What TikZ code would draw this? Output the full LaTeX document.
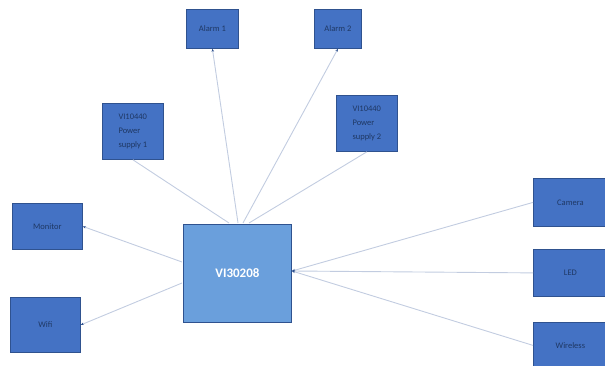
\documentclass[tikz,border=0pt]{standalone}
\usepackage{fontspec}
\setmainfont{Carlito}
\usetikzlibrary{arrows.meta}
\definecolor{boxblue}{HTML}{4472C4}
\definecolor{boxedge}{HTML}{2F528F}
\definecolor{centerblue}{HTML}{6A9FDC}
\definecolor{txtblue}{HTML}{1F3864}
\definecolor{linecol}{HTML}{C2CCE0}
\tikzset{
  box/.style={draw=boxedge, fill=boxblue, line width=0.8pt, anchor=north west, inner sep=1pt,
    font=\fontsize{8.5}{14}\selectfont, text=txtblue, align=center},
  centerbox/.style={draw=boxedge, fill=centerblue, line width=0.8pt, anchor=north west,
    font=\fontsize{13}{15}\selectfont\bfseries, text=white},
  conn/.style={draw=linecol, line width=0.9pt},
  arr/.style={conn, -{Stealth[length=3pt,width=2.5pt,color=boxedge]}}
}
\begin{document}
\begin{tikzpicture}[x=1pt,y=1pt]
\useasboundingbox (0,0) rectangle (605,-366);
\node[box, minimum width=52pt, minimum height=39pt] (al1) at (186,-9) {Alarm 1};
\node[box, minimum width=47pt, minimum height=39pt] (al2) at (314,-9) {Alarm 2};
\node[box, minimum width=61pt, minimum height=56pt, align=left] (ps1) at (102,-103) {VI10440\\Power\\supply 1};
\node[box, minimum width=61pt, minimum height=56pt, align=left] (ps2) at (336,-95) {VI10440\\Power\\supply 2};
\node[box, minimum width=70pt, minimum height=46pt] (mon) at (12,-203) {Monitor};
\node[box, minimum width=70pt, minimum height=55pt] (wifi) at (10,-297) {Wifi};
\node[centerbox, minimum width=108pt, minimum height=98pt] (cen) at (183,-224) {VI30208};
\node[box, minimum width=74pt, minimum height=48pt] (cam) at (533,-178) {Camera};
\node[box, minimum width=74pt, minimum height=47pt] (led) at (533,-249) {LED};
\node[box, minimum width=74pt, minimum height=46pt] (wl) at (533,-322) {Wireless};
\coordinate (c1) at (238,-223);
\coordinate (c2) at (243,-223);
\coordinate (c3) at (229,-223);
\coordinate (c4) at (249,-223);
\coordinate (cl1) at (182,-262);
\coordinate (cl2) at (182,-283);
\coordinate (cr) at (292,-271);
\draw[arr] (c1) -- (al1.south);
\draw[arr] (c2) -- (al2.south);
\draw[conn] (c3) -- (ps1.south);
\draw[conn] (c4) -- (ps2.south);
\draw[arr] (cl1) -- (mon.east);
\draw[arr] (cl2) -- (wifi.east);
\draw[arr] (cam.west) -- (cr);
\draw[arr] (led.west) -- (cr);
\draw[arr] (wl.west) -- (cr);
\end{tikzpicture}
\end{document}
